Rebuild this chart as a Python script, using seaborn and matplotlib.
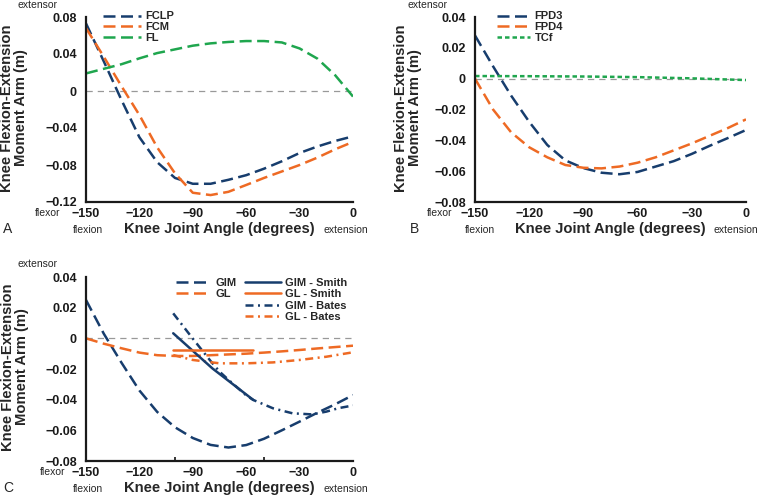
import matplotlib
matplotlib.use("Agg")
import matplotlib.pyplot as plt
import seaborn as sns
import pandas as pd
from matplotlib.ticker import FuncFormatter, FixedLocator

sns.set_style("white")
plt.rcParams['font.family'] = ['Liberation Sans', 'DejaVu Sans']
plt.rcParams['axes.unicode_minus'] = True

# ---------------- data ----------------
angle = [-150, -140, -130, -120, -110, -100, -90, -80, -70, -60, -50, -40, -30, -20, -10, 0]

# Panel A
fclp = [0.073, 0.032, -0.010, -0.050, -0.077, -0.094, -0.1003, -0.1003, -0.096, -0.091, -0.084, -0.076, -0.067, -0.060, -0.054, -0.049]
fcm = [0.068, 0.037, 0.005, -0.026, -0.061, -0.089, -0.1100, -0.1125, -0.109, -0.1016, -0.094, -0.087, -0.080, -0.072, -0.063, -0.055]
fl = [0.019, 0.024, 0.029, 0.0353, 0.041, 0.045, 0.049, 0.0515, 0.053, 0.054, 0.054, 0.0525, 0.046, 0.035, 0.017, -0.006]

# Panel B
fpd3 = [0.028, 0.008, -0.011, -0.028, -0.043, -0.053, -0.058, -0.061, -0.062, -0.0605, -0.057, -0.0535, -0.0488, -0.0435, -0.0385, -0.0333]
fpd4 = [0.0, -0.020, -0.0348, -0.0445, -0.051, -0.056, -0.0578, -0.0582, -0.057, -0.0545, -0.051, -0.0465, -0.042, -0.037, -0.032, -0.0264]
tcf_angle = [-150, -120, -90, -60, -30, 0]
tcf = [0.0017, 0.0016, 0.0014, 0.0010, 0.0002, -0.0009]

# Panel C
gim = [0.025, 0.003, -0.016, -0.034, -0.048, -0.058, -0.065, -0.0695, -0.0712, -0.0696, -0.0655, -0.060, -0.0543, -0.0485, -0.043, -0.037]
gl = [0.0, -0.0035, -0.0065, -0.0093, -0.011, -0.0115, -0.0115, -0.011, -0.0105, -0.010, -0.0093, -0.0085, -0.0076, -0.0066, -0.0057, -0.0048]
smith_angle = [-101, -79, -56]
gim_smith = [0.0033, -0.0196, -0.0402]
gl_smith = [-0.0077, -0.0077, -0.0077]
gim_bates_angle = [-101, -90, -80, -75, -70, -60, -56, -45, -34, -23, -15, -8, 0]
gim_bates = [0.0163, -0.0002, -0.0148, -0.0217, -0.027, -0.0372, -0.0402, -0.0456, -0.0489, -0.0496, -0.0478, -0.0455, -0.0438]
gl_bates_angle = [-101, -90, -75, -60, -45, -30, -15, 0]
gl_bates = [-0.0109, -0.0141, -0.0163, -0.0163, -0.0157, -0.0141, -0.012, -0.0091]

x_ticks = [-150, -120, -90, -60, -30, 0]
yticks_A = [-0.12, -0.08, -0.04, 0, 0.04, 0.08]
yticks_BC = [-0.08, -0.06, -0.04, -0.02, 0, 0.02, 0.04]

# ---------------- style ----------------
NAVY = "#173d6d"
ORANGE = "#ee6a24"
GREEN = "#1fa64e"
DASH = (0, (4.8, 2.2))
SHORT = (0, (1.8, 1.2))
DASHDOT = (0, (3.2, 1.8, 0.8, 1.8))
LW = 1.8

W, H = 761, 498
fig = plt.figure(figsize=(W / 100, H / 100), dpi=100)


def rect(l, t, r, b):
    return [l / W, 1 - b / H, (r - l) / W, (b - t) / H]


def ftext(x, y, s, **kw):
    fig.text(x / W, 1 - y / H, s, **kw)


def yfmt(v, pos):
    if abs(v) < 1e-12:
        return "0"
    return f"{v:.2f}".replace("-", "\u2212")


def xfmt(v, pos):
    return f"{int(round(v))}".replace("-", "\u2212")


def style_axes(ax, ylim, yticks, minor_x=None):
    ax.set_xlim(-150, 0)
    ax.set_ylim(*ylim)
    ax.set_yticks(yticks)
    ax.set_xticks(x_ticks)
    ax.yaxis.set_major_formatter(FuncFormatter(yfmt))
    ax.xaxis.set_major_formatter(FuncFormatter(xfmt))
    for s in ["top", "right"]:
        ax.spines[s].set_visible(False)
    for s in ["left", "bottom"]:
        ax.spines[s].set_linewidth(1.6)
        ax.spines[s].set_color("#1a1a1a")
    ax.tick_params(axis="both", which="major", direction="in", length=3, width=1.3,
                   labelsize=9, colors="#1a1a1a")
    ax.tick_params(axis="x", pad=4)
    ax.tick_params(axis="y", pad=6.5)
    if minor_x is not None:
        ax.tick_params(axis="x", which="major", length=0)
        ax.xaxis.set_minor_locator(FixedLocator(minor_x))
        ax.tick_params(axis="x", which="minor", direction="in", length=3, width=1.3,
                       bottom=True)
    for lab in ax.get_xticklabels() + ax.get_yticklabels():
        lab.set_fontweight("bold")
    ax.set_xlabel("")
    ax.set_ylabel("")
    ax.axhline(0, color="#999999", lw=0.9, ls=(0, (5, 4)), zorder=0)


def line(ax, x, y, color, ls, label, lw=LW):
    df = pd.DataFrame({"angle": x, "arm": y})
    sns.lineplot(data=df, x="angle", y="arm", ax=ax, color=color, linestyle=ls,
                 linewidth=lw, label=label, legend=False)


def side_texts(dy, letter, lbl_x, ext_x, flexor_r, letter_x, flex_x, ext_lab_x, xl_x):
    ftext(ext_x, 5 + dy, "extensor", fontsize=7.5, ha="left", va="center")
    ftext(flexor_r, 213 + dy, "flexor", fontsize=7.5, ha="right", va="center")
    ftext(letter_x, 229 + dy, letter, fontsize=10, ha="left", va="center")
    ftext(flex_x, 230 + dy, "flexion", fontsize=7.5, ha="center", va="center")
    ftext(ext_lab_x, 230 + dy, "extension", fontsize=7.5, ha="left", va="center")
    ftext(xl_x, 229 + dy, "Knee Joint Angle (degrees)", fontsize=10.6,
          fontweight="bold", ha="center", va="center")
    ftext(lbl_x, 108 + dy, "Knee Flexion-Extension\nMoment Arm (m)", fontsize=10.6,
          fontweight="bold", ha="center", va="center", rotation=90, linespacing=1.0)


def leg_kw(spacing):
    return dict(frameon=False, borderpad=0, labelspacing=spacing,
                handletextpad=0.4, borderaxespad=0, prop={"weight": "bold", "size": 8})


# ---------------- Panel A ----------------
axA = fig.add_axes(rect(86, 17, 353, 202))
line(axA, angle, fclp, NAVY, DASH, "FCLP")
line(axA, angle, fcm, ORANGE, DASH, "FCM")
line(axA, angle, fl, GREEN, DASH, "FL")
style_axes(axA, (-0.12, 0.08), yticks_A)
axA.legend(loc="upper left", bbox_to_anchor=(0.064, 1.03), handlelength=3.4, **leg_kw(0.05))
side_texts(0, "A", 14, 18, 60, 3, 88, 323, 219)

# ---------------- Panel B ----------------
axB = fig.add_axes(rect(475, 17, 746, 202))
line(axB, angle, fpd3, NAVY, DASH, "FPD3")
line(axB, angle, fpd4, ORANGE, DASH, "FPD4")
line(axB, tcf_angle, tcf, GREEN, SHORT, "TCf")
style_axes(axB, (-0.08, 0.04), yticks_BC)
axB.legend(loc="upper left", bbox_to_anchor=(0.081, 1.03), handlelength=3.0, **leg_kw(0.05))
side_texts(0, "B", 408, 408, 452, 410, 480, 714, 610)

# ---------------- Panel C ----------------
axC = fig.add_axes(rect(86, 277, 353, 461))
line(axC, angle, gim, NAVY, DASH, "GIM")
line(axC, angle, gl, ORANGE, DASH, "GL")
line(axC, gim_bates_angle, gim_bates, NAVY, DASHDOT, "GIM - Bates")
line(axC, gl_bates_angle, gl_bates, ORANGE, DASHDOT, "GL - Bates")
line(axC, smith_angle, gim_smith, NAVY, "-", "GIM - Smith")
line(axC, smith_angle, gl_smith, ORANGE, "-", "GL - Smith")
style_axes(axC, (-0.08, 0.04), yticks_BC, minor_x=[-150, -100, -50, 0])
h, l = axC.get_legend_handles_labels()
hd = dict(zip(l, h))
leg1 = axC.legend([hd["GIM"], hd["GL"]], ["GIM", "GL"], loc="upper left",
                  bbox_to_anchor=(0.336, 0.995), handlelength=3.2, **leg_kw(0.12))
axC.add_artist(leg1)
order = ["GIM - Smith", "GL - Smith", "GIM - Bates", "GL - Bates"]
axC.legend([hd[k] for k in order], order, loc="upper left",
           bbox_to_anchor=(0.596, 0.995), handlelength=3.2, **leg_kw(0.12))
side_texts(259, "C", 15, 18, 65, 3, 88, 323, 219)

fig.savefig("out.png", dpi=100)
